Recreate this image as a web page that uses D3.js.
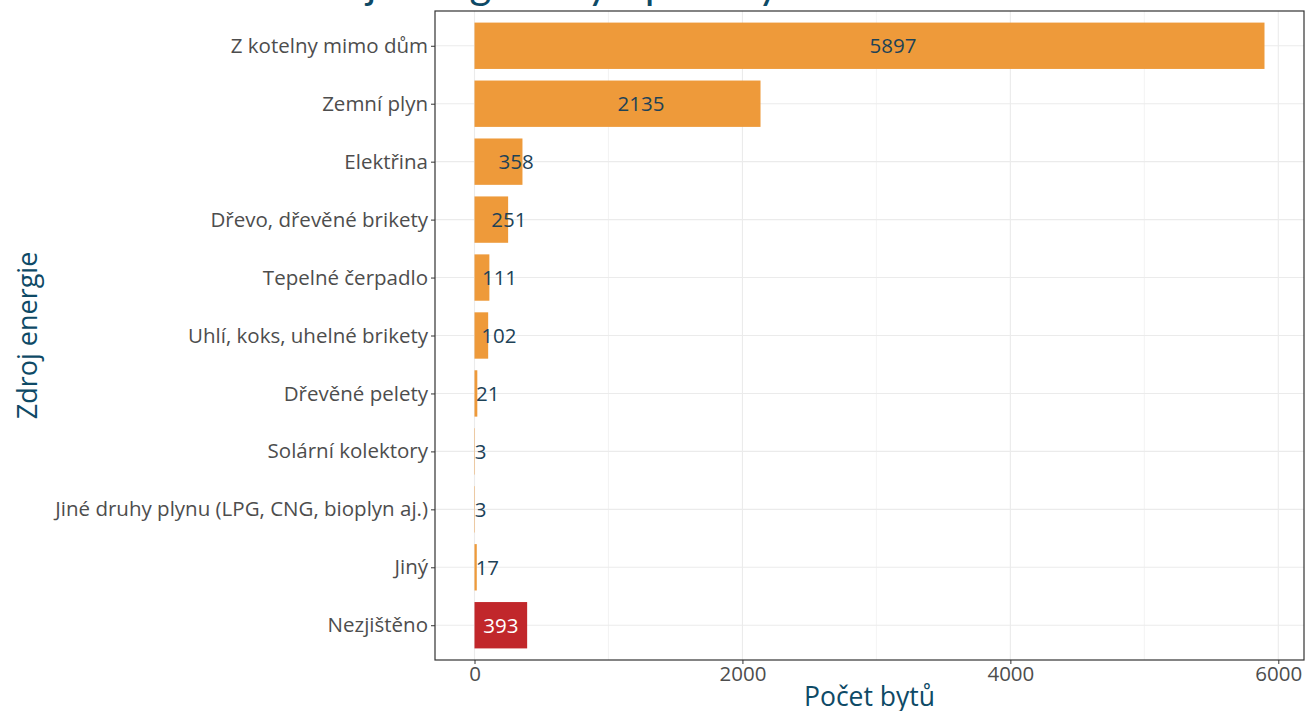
<!DOCTYPE html>
<html><head><meta charset="utf-8">
<script src="https://cdn.jsdelivr.net/npm/d3@7"></script>
<style>body{margin:0;background:#fff;} svg{display:block;}</style>
</head><body><svg id="c" width="1306" height="711"></svg>
<script>
const categories = ["Z kotelny mimo dům","Zemní plyn","Elektřina","Dřevo, dřevěné brikety","Tepelné čerpadlo","Uhlí, koks, uhelné brikety","Dřevěné pelety","Solární kolektory","Jiné druhy plynu (LPG, CNG, bioplyn aj.)","Jiný","Nezjištěno"];
const values = [5897,2135,358,251,111,102,21,3,3,17,393];
const highlighted = ["Nezjištěno"];
const xTicks = [0,2000,4000,6000];
const xMinor = [1000,3000,5000];
const titleText = "Zdroj energie k vytápění bytů";
const xTitle = "Počet bytů";
const yTitle = "Zdroj energie";

const FONT = "'Open Sans', 'Noto Sans', sans-serif";
const svg = d3.select("#c");
const m = {left:435, right:1304, top:11, bottom:660};
const maxV = d3.max(values);
const x = d3.scaleLinear().domain([-0.05*maxV, maxV*1.05]).range([m.left, m.right]);
const n = categories.length;
const step = (m.bottom - m.top) / (n - 1 + 1.2);
const yPos = d3.scalePoint().domain(categories).range([m.top + step*0.6, m.bottom - step*0.6]);
const bh = step*0.8;

const grid = svg.append("g");
xMinor.concat(xTicks).forEach(v=>{
  grid.append("line").attr("x1",x(v)).attr("x2",x(v)).attr("y1",m.top).attr("y2",m.bottom)
    .attr("stroke","#ebebeb").attr("stroke-width", xTicks.includes(v)?1.1:0.6);
});
categories.forEach(c=>{
  grid.append("line").attr("x1",m.left).attr("x2",m.right).attr("y1",yPos(c)).attr("y2",yPos(c))
    .attr("stroke","#ebebeb").attr("stroke-width",1.1);
});

const data = categories.map((c,i)=>({c, v:values[i], hl: highlighted.includes(c)}));
svg.append("g").selectAll("rect").data(data).join("rect")
  .attr("x", x(0)).attr("y", d=>yPos(d.c)-bh/2).attr("width", d=>x(d.v)-x(0)).attr("height", bh)
  .attr("fill", d=>d.hl ? "#c1272b" : "#ee9a3a");

svg.append("g").selectAll("text").data(data).join("text")
  .attr("x", d=>x(d.v/2)).attr("y", d=>yPos(d.c)).attr("dy","0.36em")
  .attr("text-anchor", d=>d.hl?"middle":"start")
  .attr("fill", d=>d.hl?"#ffffff":"#1d4257")
  .attr("font-family", FONT).attr("font-size", 20.5)
  .text(d=>d.v);

svg.append("rect").attr("x",m.left).attr("y",m.top).attr("width",m.right-m.left).attr("height",m.bottom-m.top)
  .attr("fill","none").attr("stroke","#333").attr("stroke-width",1.2);

const xAxis = d3.axisBottom(x).tickValues(xTicks).tickFormat(d3.format("d")).tickSize(4).tickPadding(2);
const gx = svg.append("g").attr("transform",`translate(0,${m.bottom})`).call(xAxis);
gx.select(".domain").remove();
gx.selectAll(".tick line").attr("stroke","#333");
gx.selectAll(".tick text").attr("font-family",FONT).attr("font-size",20.5).attr("fill","#4d4d4d");

const yAxis = d3.axisLeft(yPos).tickSize(4).tickPadding(3);
const gy = svg.append("g").attr("transform",`translate(${m.left},0)`).call(yAxis);
gy.select(".domain").remove();
gy.selectAll(".tick line").attr("stroke","#333");
gy.selectAll(".tick text").attr("font-family",FONT).attr("font-size",20.5).attr("fill","#4d4d4d");

svg.append("text").attr("x",(m.left+m.right)/2).attr("y",706).attr("text-anchor","middle")
  .attr("font-family",FONT).attr("font-size",26.5).attr("fill","#0e4a66").text(xTitle);
svg.append("text").attr("transform",`translate(37,${(m.top+m.bottom)/2}) rotate(-90)`).attr("text-anchor","middle")
  .attr("font-family",FONT).attr("font-size",27).attr("fill","#0e4a66").text(yTitle);
svg.append("text").attr("x",280).attr("y",-1).attr("text-anchor","start")
  .attr("font-family","Lato, sans-serif").attr("font-size",42).attr("fill","#0e4a66").text(titleText);
</script></body></html>
